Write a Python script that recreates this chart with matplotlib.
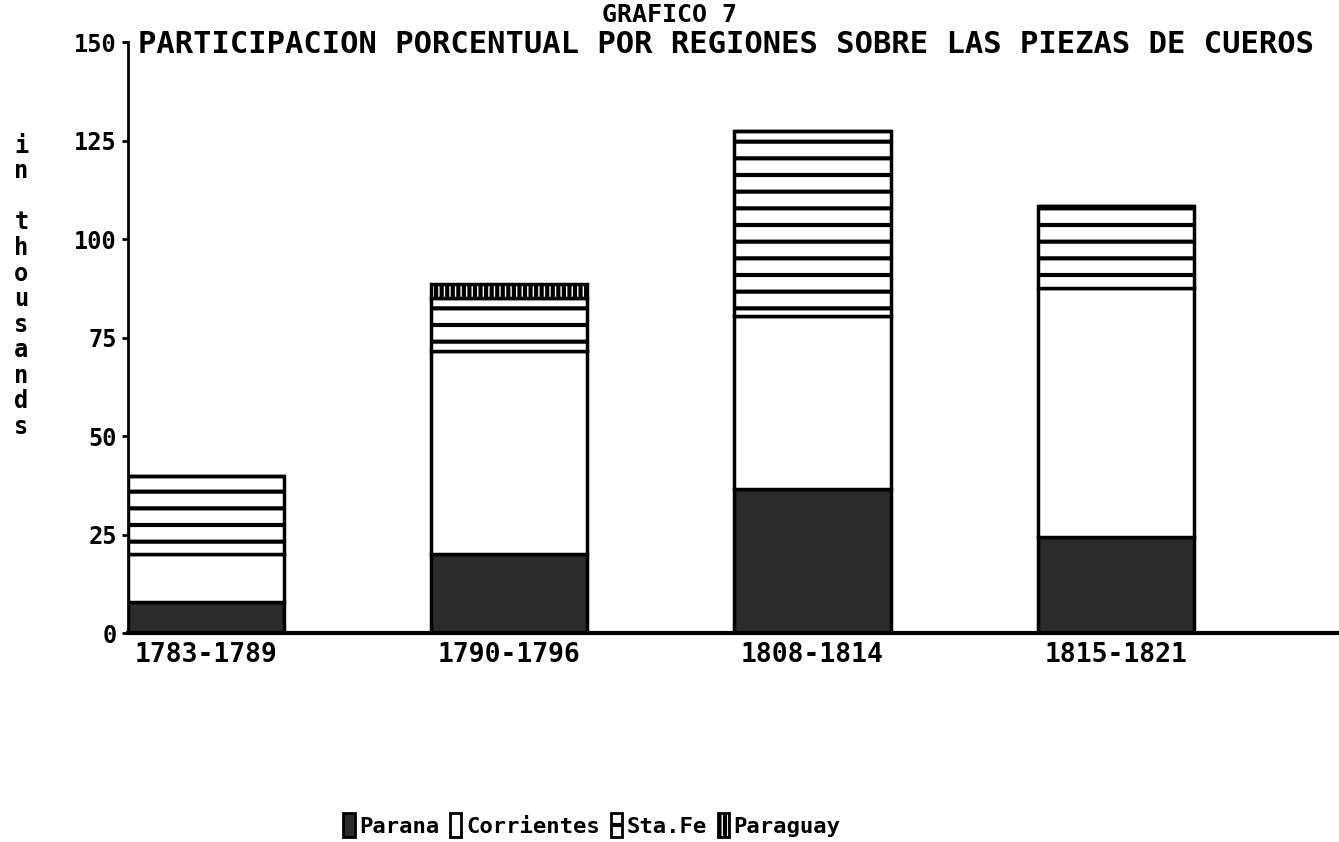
import matplotlib
matplotlib.use("Agg")
import matplotlib.pyplot as plt
import matplotlib.patches as mpatches
import numpy as np

# values (thousands of pieces)
periods = ["1783-1789", "1790-1796", "1808-1814", "1815-1821"]
parana = [8.0, 20.0, 36.5, 24.5]
corrientes = [12.0, 51.5, 44.0, 63.0]
sta_fe = [20.0, 13.5, 47.0, 21.0]
paraguay = [0.0, 3.5, 0.0, 0.0]

plt.rcParams["hatch.linewidth"] = 3.0
mono = "DejaVu Sans Mono"

fig = plt.figure(figsize=(13.39, 8.42), dpi=100)
ax = fig.add_axes([0.0956, 0.248, 0.9044, 0.702])

x = np.arange(len(periods))
w = 0.515
bottom = np.zeros(len(periods))

series = [
    ("Parana", parana, dict(facecolor="#2b2b2b", hatch=None)),
    ("Corrientes", corrientes, dict(facecolor="white", hatch=None)),
    ("Sta.Fe", sta_fe, dict(facecolor="white", hatch="-")),
    ("Paraguay", paraguay, dict(facecolor="white", hatch="|||")),
]
for name, vals, st in series:
    ax.bar(x, vals, w, bottom=bottom, edgecolor="black", linewidth=2.5, **st)
    bottom += np.array(vals)

ax.set_xlim(-0.257, 3.736)
ax.set_ylim(0, 150)
ax.set_yticks([0, 25, 50, 75, 100, 125, 150])
ax.set_yticklabels(["0", "25", "50", "75", "100", "125", "150"],
                   family=mono, fontweight="bold", fontsize=17)
ax.set_xticks(x)
ax.set_xticklabels(periods, family=mono, fontweight="bold", fontsize=19)
ax.tick_params(axis="x", length=0, pad=6)
ax.tick_params(axis="y", length=4, width=2, pad=4)

for s in ["top", "right"]:
    ax.spines[s].set_visible(False)
ax.spines["left"].set_linewidth(2)
ax.spines["bottom"].set_linewidth(3)

fig.text(0.5, 0.982, "GRAFICO 7", ha="center", va="center",
         family=mono, fontweight="bold", fontsize=18)
fig.text(0.542, 0.947, "PARTICIPACION PORCENTUAL POR REGIONES SOBRE LAS PIEZAS DE CUEROS",
         ha="center", va="center", family=mono, fontweight="bold", fontsize=22)

fig.text(0.016, 0.66, "\n".join("in thousands"), ha="center", va="center",
         family=mono, fontweight="bold", fontsize=17, linespacing=1.08)

handles = [mpatches.Patch(edgecolor="black", linewidth=2, label=n, **st)
           for n, _, st in series]
fig.legend(handles=handles, loc="center", bbox_to_anchor=(0.442, 0.02),
           ncol=4, frameon=False, handlelength=0.5, handleheight=1.3,
           handletextpad=0.2, columnspacing=0.5,
           prop=dict(family=mono, weight="bold", size=16))

fig.savefig("out.png", dpi=100)
